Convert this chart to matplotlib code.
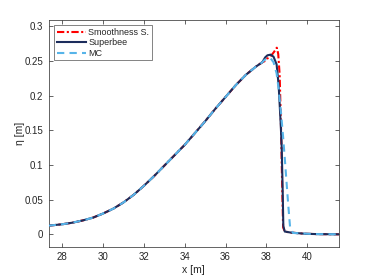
import numpy as np
import matplotlib
matplotlib.use("Agg")
import matplotlib.pyplot as plt

# shared part of the profile
x_common = [27.33, 28.0, 28.5, 29.0, 29.5, 30.0, 30.5, 31.0, 31.5, 32.0, 32.5, 33.0,
            33.5, 34.0, 34.5, 35.0, 35.5, 36.0, 36.5, 37.0, 37.5, 37.8]
y_common = [0.0125, 0.0145, 0.0168, 0.020, 0.024, 0.030, 0.037, 0.046, 0.057, 0.070,
            0.084, 0.099, 0.114, 0.129, 0.146, 0.163, 0.181, 0.198, 0.215, 0.230, 0.242, 0.248]

x_smooth_tail = [37.95, 38.02, 38.15, 38.3, 38.45, 38.51, 38.58, 38.65, 38.72, 38.78, 38.82,
                 38.9, 39.2, 39.9, 40.5, 41.55]
y_smooth_tail = [0.250, 0.253, 0.255, 0.260, 0.266, 0.269, 0.260, 0.230, 0.150, 0.060, 0.010,
                 0.004, 0.0025, 0.0008, 0.0003, 0.0]

x_superbee_tail = [37.94, 38.05, 38.21, 38.35, 38.5, 38.6, 38.7, 38.75, 38.8, 38.83, 38.9,
                   39.2, 39.9, 40.5, 41.55]
y_superbee_tail = [0.255, 0.258, 0.259, 0.256, 0.245, 0.215, 0.160, 0.126, 0.060, 0.012, 0.004,
                   0.0025, 0.0008, 0.0003, 0.0]

x_mc_tail = [37.9, 38.05, 38.2, 38.35, 38.5, 38.6, 38.72, 38.82, 38.92, 39.0, 39.08, 39.16,
             39.3, 39.9, 40.5, 41.55]
y_mc_tail = [0.251, 0.254, 0.254, 0.248, 0.232, 0.210, 0.174, 0.140, 0.102, 0.070, 0.039, 0.0105,
             0.002, 0.001, 0.0003, 0.0]

x_ticks = [28, 30, 32, 34, 36, 38, 40]
y_ticks = [0, 0.05, 0.1, 0.15, 0.2, 0.25, 0.3]
y_ticklabels = ["0", "0.05", "0.1", "0.15", "0.2", "0.25", "0.3"]

plt.rcParams['font.family'] = ['Liberation Sans', 'DejaVu Sans']
txt = '#262626'

fig = plt.figure(figsize=(3.74, 2.77), dpi=100)
ax = fig.add_axes([0.130, 0.109, 0.776, 0.819])

ax.plot(x_common + x_smooth_tail, y_common + y_smooth_tail, color='#ff0000', lw=1.5,
        ls=(0, (3.5, 1.2, 1, 1.2)), label='Smoothness S.', zorder=2)
ax.plot(x_common + x_superbee_tail, y_common + y_superbee_tail, color='#1c2d5c', lw=1.5,
        ls='-', label='Superbee', zorder=3)
ax.plot(x_common + x_mc_tail, y_common + y_mc_tail, color='#56b4e9', lw=1.5,
        ls=(0, (3.5, 2.5)), label='MC', zorder=4)

ax.set_xlim(27.33, 41.55)
ax.set_ylim(-0.018, 0.309)
ax.set_xticks(x_ticks)
ax.set_xticklabels([str(t) for t in x_ticks])
ax.set_yticks(y_ticks)
ax.set_yticklabels(y_ticklabels)
ax.tick_params(direction='in', length=3, width=0.5, top=True, right=True,
               labelsize=7, colors=txt, pad=4)
for s in ax.spines.values():
    s.set_linewidth(0.5)
    s.set_color(txt)

ax.set_xlabel('x [m]', fontsize=7.5, color=txt, labelpad=2)
ax.set_ylabel('η [m]', fontsize=7.5, color=txt, labelpad=-0.5)

leg = ax.legend(loc='upper left', fontsize=6.5, frameon=True, fancybox=False,
                borderpad=0.3, handlelength=3.2, handletextpad=0.3, labelspacing=0.15,
                borderaxespad=0.6)
leg.get_frame().set_edgecolor(txt)
leg.get_frame().set_linewidth(0.5)
for t in leg.get_texts():
    t.set_color(txt)

fig.savefig('out.png', dpi=100)
